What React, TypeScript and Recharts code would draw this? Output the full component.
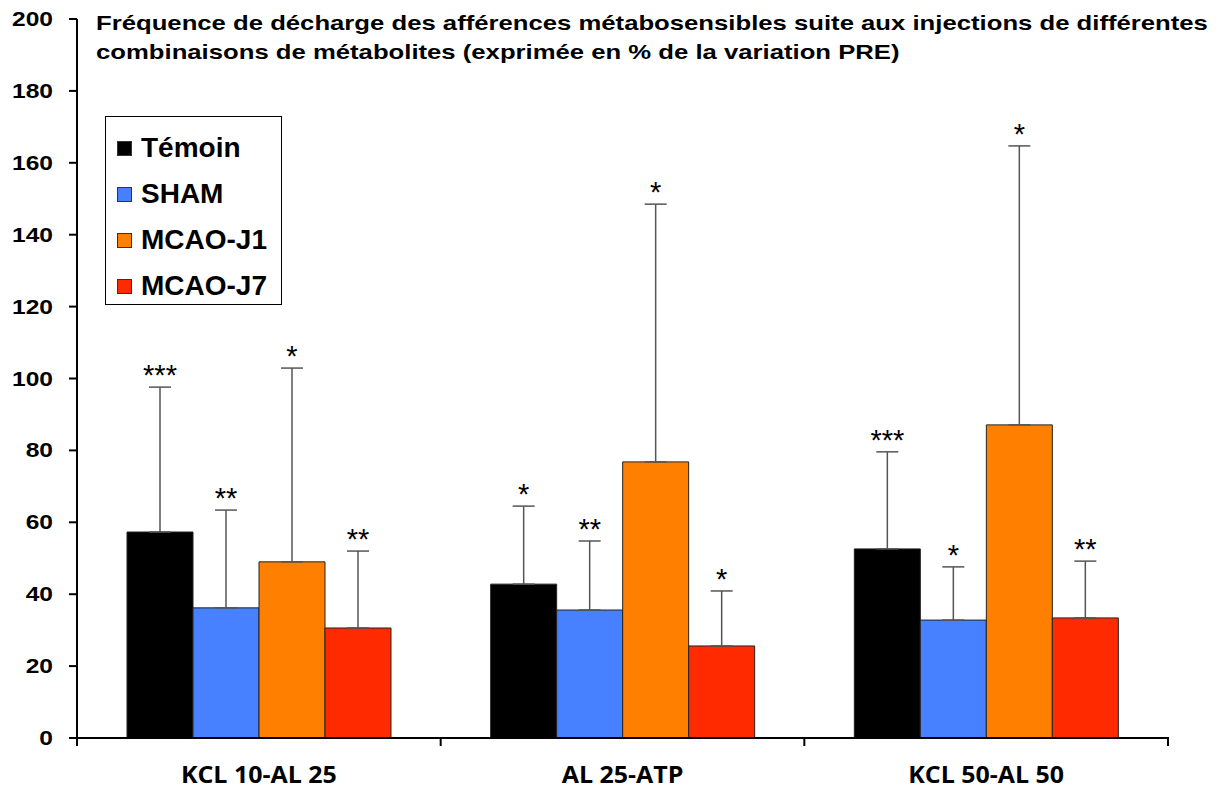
import React from "react"
import { BarChart, Bar, XAxis, YAxis, ErrorBar, LabelList } from "recharts"

const categories = ["KCL 10-AL 25", "AL 25-ATP", "KCL 50-AL 50"]
const seriesNames = ["Témoin", "SHAM", "MCAO-J1", "MCAO-J7"]
const seriesColors = ["#000000", "#4781FF", "#FF7F00", "#FF2A00"]

// mean values (% of PRE variation)
const temoin = [57.3, 42.8, 52.6]
const sham = [36.2, 35.6, 32.8]
const mcaoJ1 = [49.0, 76.8, 87.1]
const mcaoJ7 = [30.6, 25.6, 33.4]

// top of the (upward only) error bars
const temoinTop = [97.6, 64.5, 79.6]
const shamTop = [63.4, 54.8, 47.6]
const mcaoJ1Top = [102.9, 148.5, 164.7]
const mcaoJ7Top = [52.0, 40.9, 49.2]

const temoinStars = ["***", "*", "***"]
const shamStars = ["**", "**", "*"]
const mcaoJ1Stars = ["*", "*", "*"]
const mcaoJ7Stars = ["**", "*", "**"]

const yTicks = [0, 20, 40, 60, 80, 100, 120, 140, 160, 180, 200]

const values = [temoin, sham, mcaoJ1, mcaoJ7]
const tops = [temoinTop, shamTop, mcaoJ1Top, mcaoJ7Top]
const stars = [temoinStars, shamStars, mcaoJ1Stars, mcaoJ7Stars]

const data = categories.map((name, i) => {
  const row: any = { name }
  seriesNames.forEach((s, k) => {
    row["v" + k] = values[k][i]
    row["e" + k] = [0, tops[k][i] - values[k][i]]
    row["s" + k] = stars[k][i]
  })
  return row
})

const W = 1218
const H = 790
const LEFT = 77
const RIGHT = 50
const TOP = 19
const XH = 52
const band = (W - LEFT - RIGHT) / categories.length

const font = "'Liberation Sans', Arial, sans-serif"

function XTick(props: any) {
  const { x, payload, index } = props
  const axisY = H - XH
  return (
    <g>
      <line x1={x - band / 2} x2={x - band / 2} y1={axisY - 1} y2={axisY + 8} stroke="#000" strokeWidth={2} />
      {index === categories.length - 1 && (
        <line x1={x + band / 2} x2={x + band / 2} y1={axisY - 1} y2={axisY + 8} stroke="#000" strokeWidth={2} />
      )}
      <text
        transform={`translate(${x},${axisY + 45}) scale(1.04,1)`}
        textAnchor="middle"
        fontFamily="'Open Sans', sans-serif"
        fontWeight={700}
        fontSize={24}
        fill="#000"
      >
        {payload.value}
      </text>
    </g>
  )
}

function YTick(props: any) {
  const { x, y, payload } = props
  return (
    <text
      transform={`translate(${x},${y + 7}) scale(1.17,1)`}
      textAnchor="end"
      fontFamily={font}
      fontWeight={700}
      fontSize={21}
      fill="#000"
    >
      {payload.value}
    </text>
  )
}

function makeStar(k: number) {
  return (props: any) => {
    const { x, y, width, height, index } = props
    const v = values[k][index]
    const top = tops[k][index]
    const capY = y - ((top - v) * height) / v
    return (
      <text x={x + width / 2} y={capY - 2} textAnchor="middle" fontFamily={font} fontSize={29} fill="#000">
        {stars[k][index]}
      </text>
    )
  }
}

function LegendBox() {
  return (
    <div
      style={{
        position: "absolute",
        left: 105,
        top: 116,
        border: "1.5px solid #000",
        width: 177,
        height: 189,
        boxSizing: "border-box",
        background: "#fff",
        paddingTop: 8,
      }}
    >
      {seriesNames.map((s, k) => (
        <div key={s} style={{ display: "flex", alignItems: "center", height: 46, paddingLeft: 11 }}>
          <span
            style={{
              width: 13,
              height: 13,
              background: seriesColors[k],
              border: "1px solid #333",
              display: "inline-block",
              marginRight: 9,
            }}
          />
          <span style={{ fontFamily: font, fontWeight: 700, fontSize: 28, color: "#000" }}>{s}</span>
        </div>
      ))}
    </div>
  )
}

export default function App() {
  return (
    <div style={{ position: "absolute", left: 0, top: 0, width: W, height: H, background: "#fff" }}>
      <BarChart width={W} height={H} data={data} margin={{ top: TOP, right: RIGHT, left: 0, bottom: 0 }} barCategoryGap={50} barGap={0}>
        <XAxis dataKey="name" height={XH} axisLine={{ stroke: "#000", strokeWidth: 2 }} tickLine={false} tick={<XTick />} interval={0} />
        <YAxis
          width={LEFT}
          domain={[0, 200]}
          ticks={yTicks}
          interval={0}
          axisLine={{ stroke: "#000", strokeWidth: 2 }}
          tickLine={{ stroke: "#000", strokeWidth: 2 }}
          tickSize={8}
          tickMargin={16}
          tick={<YTick />}
        />
        {seriesNames.map((s, k) => (
          <Bar key={s} dataKey={"v" + k} name={s} fill={seriesColors[k]} stroke="#222" strokeWidth={1} isAnimationActive={false}>
            <ErrorBar dataKey={"e" + k} width={11} stroke="#555" strokeWidth={1.5} direction="y" />
            <LabelList dataKey={"s" + k} content={makeStar(k)} />
          </Bar>
        ))}
      </BarChart>
      <LegendBox />
      <div
        style={{
          position: "absolute",
          left: 96,
          top: 8,
          fontFamily: font,
          fontWeight: 700,
          fontSize: 21,
          lineHeight: "29px",
          color: "#000",
          whiteSpace: "nowrap",
          transform: "scaleX(1.223)",
          transformOrigin: "0 0",
        }}
      >
        Fréquence de décharge des afférences métabosensibles suite aux injections de différentes
        <br />
        combinaisons de métabolites (exprimée en % de la variation PRE)
      </div>
    </div>
  )
}
